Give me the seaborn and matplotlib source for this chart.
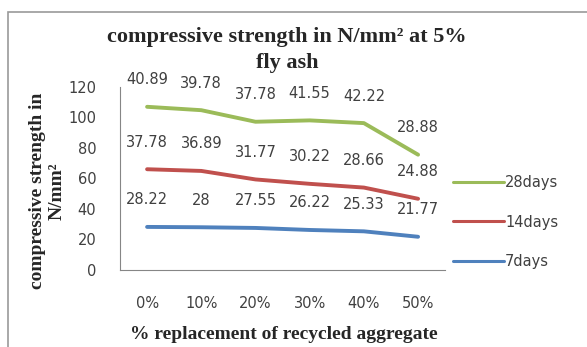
import numpy as np
import pandas as pd
import matplotlib
matplotlib.use("Agg")
import matplotlib.pyplot as plt
import seaborn as sns

categories = ["0%", "10%", "20%", "30%", "40%", "50%"]
days7 = [28.22, 28, 27.55, 26.22, 25.33, 21.77]
days14 = [37.78, 36.89, 31.77, 30.22, 28.66, 24.88]
days28 = [40.89, 39.78, 37.78, 41.55, 42.22, 28.88]
series_names = ["7days", "14days", "28days"]
series_values = [days7, days14, days28]
colors = {"7days": "#4F81BD", "14days": "#C0504D", "28days": "#9BBB59"}
y_ticks = [0, 20, 40, 60, 80, 100, 120]

sns.set_theme(style="white")
plt.rcParams["font.family"] = ["DejaVu Sans"]

# stacked line layout: each series sits on top of the previous ones
stacked = np.cumsum(np.array(series_values), axis=0)
rows = []
for name, raw, top in zip(series_names, series_values, stacked):
    for i, cat in enumerate(categories):
        rows.append({"pos": i, "cat": cat, "series": name, "raw": raw[i], "stack": top[i]})
df = pd.DataFrame(rows)

fig = plt.figure(figsize=(5.87, 3.47), dpi=100)
ax = fig.add_axes([0.2044, 0.2219, 0.554, 0.528])

sns.lineplot(data=df, x="pos", y="stack", hue="series", palette=colors,
             hue_order=["28days", "14days", "7days"], linewidth=2.8, ax=ax,
             legend=False)

for _, r in df.iterrows():
    ax.annotate(f"{r['raw']:g}", (r["pos"], r["stack"]), xytext=(0, 19.5),
                textcoords="offset points", ha="center", va="center",
                fontsize=10.5, color="#404040", annotation_clip=False)

ax.set_xlim(-0.5, 5.5)
ax.set_ylim(0, 120)
ax.set_yticks(y_ticks)
ax.set_yticklabels([str(v) for v in y_ticks], fontsize=10.5, color="#404040")
ax.set_xticks(np.arange(-0.5, 6.0, 1.0))
ax.set_xticklabels([])
ax.set_xticks(range(len(categories)), minor=True)
ax.set_xticklabels(categories, minor=True, fontsize=10.5, color="#404040")
ax.tick_params(axis="x", which="major", direction="out", length=5, color="#868686", width=0.8)
ax.tick_params(axis="x", which="minor", length=0, pad=19)
ax.tick_params(axis="y", direction="out", length=5, color="#868686", width=0.8, pad=12)
for side in ["top", "right"]:
    ax.spines[side].set_visible(False)
for side in ["left", "bottom"]:
    ax.spines[side].set_color("#868686")
    ax.spines[side].set_linewidth(0.8)
ax.set_xlabel("")
ax.set_ylabel("")

serif = ["Liberation Serif", "DejaVu Serif"]
fig.text(0.489, 0.879, "compressive strength in N/mm² at 5%",
         ha="center", va="baseline", fontsize=16, fontweight="bold", family=serif)
fig.text(0.489, 0.804, "fly ash",
         ha="center", va="baseline", fontsize=16, fontweight="bold", family=serif)
fig.text(0.484, 0.035, "% replacement of recycled aggregate", ha="center", va="center",
         fontsize=14, fontweight="bold", family=serif)
fig.text(0.081, 0.45, "compressive strength in\nN/mm²", ha="center", va="center",
         rotation=90, fontsize=14, fontweight="bold", family=serif, linespacing=1.2)

handles = [plt.Line2D([], [], color=colors[n], linewidth=2.2) for n in ["28days", "14days", "7days"]]
fig.legend(handles, ["28days", "14days", "7days"], loc="center left",
           bbox_to_anchor=(0.75, 0.36), frameon=False, fontsize=10.5,
           handlelength=3.5, handletextpad=0.05, labelspacing=1.7,
           labelcolor="#404040")

# outer chart frame
fig.patches.append(plt.Rectangle((0.014, -0.05), 1.2, 1.015, transform=fig.transFigure,
                                 fill=False, edgecolor="#9a9a9a", linewidth=1.2))

fig.savefig("out.png", dpi=100)
